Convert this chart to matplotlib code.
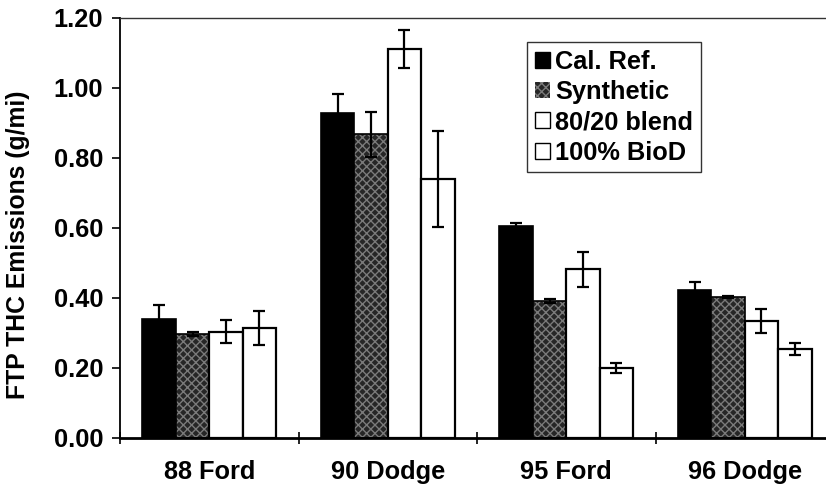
import numpy as np
import matplotlib.pyplot as plt
from matplotlib.patches import Patch

# === Data ===
vehicles = ["88 Ford", "90 Dodge", "95 Ford", "96 Dodge"]
fuels = ["Cal. Ref.", "Synthetic", "80/20 blend", "100% BioD"]

cal_ref = [0.339, 0.929, 0.605, 0.423]
synthetic = [0.297, 0.868, 0.391, 0.404]
blend_80_20 = [0.304, 1.112, 0.482, 0.335]
biod_100 = [0.315, 0.739, 0.199, 0.254]

cal_ref_err = [0.040, 0.055, 0.010, 0.024]
synthetic_err = [0.006, 0.064, 0.005, 0.003]
blend_80_20_err = [0.033, 0.055, 0.050, 0.034]
biod_100_err = [0.048, 0.137, 0.014, 0.018]

y_ticks = [0.0, 0.2, 0.4, 0.6, 0.8, 1.0, 1.2]

# === Style ===
plt.rcParams['font.family'] = ['Liberation Sans', 'DejaVu Sans']
plt.rcParams['font.weight'] = 'bold'
plt.rcParams['hatch.color'] = '#7a7a7a'
plt.rcParams['hatch.linewidth'] = 1.0
FS = 18.3
FS_LABEL = 17.8
SYN_FACE = '#262626'

fig = plt.figure(figsize=(8.26, 4.94), dpi=100)
ax = fig.add_axes([0.1453, 0.1134, 0.8644, 0.8502])

x = np.arange(len(vehicles))
w = 0.1875
offsets = np.array([-1.5, -0.5, 0.5, 1.5]) * w
err_kw = dict(ecolor='black', elinewidth=1.6, capsize=4, capthick=1.6)

# Cal. Ref. - solid black
ax.bar(x + offsets[0], cal_ref, w, color='black', edgecolor='black', linewidth=1.2,
       yerr=cal_ref_err, error_kw=err_kw)
# Synthetic - speckled dark grey
ax.bar(x + offsets[1], synthetic, w, color=SYN_FACE, hatch='xxxx', linewidth=0)
ax.bar(x + offsets[1], synthetic, w, fill=False, edgecolor='black', linewidth=1.2,
       yerr=synthetic_err, error_kw=err_kw)
# 80/20 blend and 100% BioD - white
ax.bar(x + offsets[2], blend_80_20, w, color='white', edgecolor='black', linewidth=1.6,
       yerr=blend_80_20_err, error_kw=err_kw)
ax.bar(x + offsets[3], biod_100, w, color='white', edgecolor='black', linewidth=1.6,
       yerr=biod_100_err, error_kw=err_kw)

# === Axes ===
ax.set_xlim(-0.5, 3.5)
ax.set_ylim(0, 1.2)
ax.set_yticks(y_ticks)
ax.set_yticklabels([f"{v:.2f}" for v in y_ticks], fontsize=FS, fontweight='bold')
ax.set_xticks(x)
ax.set_xticklabels(vehicles, fontsize=FS, fontweight='bold')
ax.set_xticks(np.arange(-0.5, 4.0, 1.0), minor=True)
ax.tick_params(axis='x', which='major', length=0, pad=16)
ax.tick_params(axis='x', which='minor', length=8, width=1.2, direction='inout')
ax.tick_params(axis='y', length=6, width=1.2, direction='out', pad=6)
ax.set_ylabel("FTP THC Emissions (g/mi)", fontsize=FS_LABEL, fontweight='bold')
ax.yaxis.set_label_coords(-0.126, 0.46)

ax.spines['right'].set_visible(False)
ax.spines['left'].set_linewidth(1.3)
ax.spines['bottom'].set_linewidth(2.0)
ax.spines['top'].set_linewidth(1.0)
ax.spines['top'].set_color('#333333')

# === Legend ===
handles = [
    Patch(facecolor='black', edgecolor='black'),
    Patch(facecolor=SYN_FACE, edgecolor='#7a7a7a', hatch='xxxx', linewidth=0),
    Patch(facecolor='white', edgecolor='black', linewidth=1.0),
    Patch(facecolor='white', edgecolor='black', linewidth=1.0),
]
leg = ax.legend(handles, fuels, loc='upper left', bbox_to_anchor=(0.570, 0.943),
                prop={'weight': 'bold', 'size': FS},
                handlelength=0.6, handleheight=0.6, handletextpad=0.2,
                labelspacing=0.25, borderpad=0.3, borderaxespad=0,
                frameon=True, fancybox=False, edgecolor='black')
leg.get_frame().set_linewidth(1.0)

fig.savefig("out.png", dpi=100)
